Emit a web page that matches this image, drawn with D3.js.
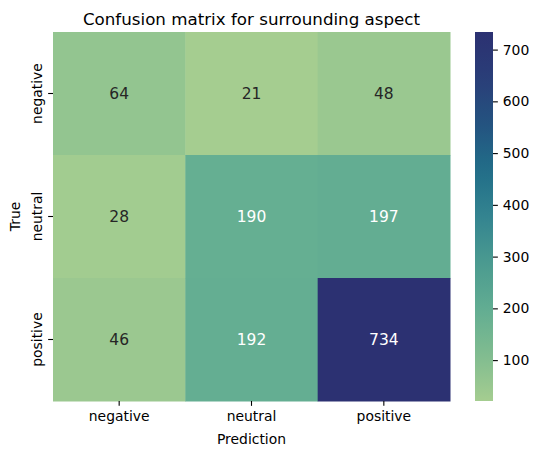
<!DOCTYPE html>
<html>
<head>
<meta charset="utf-8">
<script src="https://cdn.jsdelivr.net/npm/d3@7"></script>
<style>
  body { margin: 0; background: #fff; }
  svg { display: block; font-family: "DejaVu Sans", sans-serif; }
</style>
</head>
<body>
<script>
// confusion matrix values (rows = true, cols = prediction)
var labels = ["negative", "neutral", "positive"];
var matrix = [
  [64, 21, 48],
  [28, 190, 197],
  [46, 192, 734]
];
var colorbarTicks = [100, 200, 300, 400, 500, 600, 700];
// crest-like colormap stops, light to dark
var crestColors = ["#a5cd90", "#80bc90", "#62ad92", "#4a9a90", "#348490",
                   "#216e89", "#245380", "#2a3e78", "#2c3172"];

var W = 539, H = 455;
var plotLeft = 53, plotRight = 450, plotTop = 32, plotBottom = 401;
var tickLen = 4.86, tickPad = 4.86;

var svg = d3.select('body').append('svg')
  .attr('width', W)
  .attr('height', H);

var cells = [];
matrix.forEach(function(row, i) {
  row.forEach(function(v, j) {
    cells.push({ row: labels[i], col: labels[j], value: v });
  });
});

var allVals = d3.merge(matrix);
var vmin = d3.min(allVals), vmax = d3.max(allVals);

var x = d3.scaleBand().domain(labels).range([plotLeft, plotRight]).padding(0);
var y = d3.scaleBand().domain(labels).range([plotTop, plotBottom]).padding(0);
var color = d3.scaleSequential(d3.piecewise(d3.interpolateRgb, crestColors))
  .domain([vmin, vmax]);

// relative luminance, like seaborn's text colour choice
var lin = function(c) {
  c = c / 255;
  return c <= 0.03928 ? c / 12.92 : Math.pow((c + 0.055) / 1.055, 2.4);
};
var luminance = function(col) {
  var c = d3.rgb(col);
  return 0.2126 * lin(c.r) + 0.7152 * lin(c.g) + 0.0722 * lin(c.b);
};

// cells
svg.append('g').selectAll('rect').data(cells)
  .enter().append('rect')
  .attr('x', function(d) { return x(d.col); })
  .attr('y', function(d) { return y(d.row); })
  .attr('width', x.bandwidth() + 0.5)
  .attr('height', y.bandwidth() + 0.5)
  .style('fill', function(d) { return color(d.value); });

// annotations
svg.append('g').selectAll('text').data(cells)
  .enter().append('text')
  .attr('x', function(d) { return x(d.col) + x.bandwidth() / 2; })
  .attr('y', function(d) { return y(d.row) + y.bandwidth() / 2; })
  .attr('text-anchor', 'middle')
  .attr('dominant-baseline', 'central')
  .style('font-size', '15.5px')
  .style('fill', function(d) {
    return luminance(color(d.value)) > 0.408 ? '#262626' : '#ffffff';
  })
  .text(function(d) { return d.value; });

// x axis
var xAxis = svg.append('g')
  .attr('transform', 'translate(0,' + plotBottom + ')')
  .call(d3.axisBottom(x).tickSize(tickLen).tickPadding(tickPad));
xAxis.select('.domain').remove();
xAxis.selectAll('text').style('font-size', '13.9px').style('fill', '#000');

// y axis
var yAxis = svg.append('g')
  .attr('transform', 'translate(' + plotLeft + ',0)')
  .call(d3.axisLeft(y).tickSize(tickLen));
yAxis.select('.domain').remove();
yAxis.selectAll('text')
  .attr('x', null).attr('dy', null)
  .attr('text-anchor', 'middle')
  .attr('dominant-baseline', 'central')
  .attr('transform', 'translate(-16.5,0) rotate(-90)')
  .style('font-size', '13.9px').style('fill', '#000');

svg.selectAll('.tick line').style('stroke', '#000').style('stroke-width', 1.1);

// colorbar
var cbLeft = 475, cbWidth = 18;
var grad = svg.append('defs').append('linearGradient')
  .attr('id', 'cbgrad')
  .attr('x1', 0).attr('y1', 1).attr('x2', 0).attr('y2', 0);
grad.selectAll('stop').data(d3.range(0, 1.0001, 0.05))
  .enter().append('stop')
  .attr('offset', function(t) { return t; })
  .attr('stop-color', function(t) { return color(vmin + t * (vmax - vmin)); });

svg.append('rect')
  .attr('x', cbLeft).attr('y', plotTop)
  .attr('width', cbWidth).attr('height', plotBottom - plotTop)
  .style('fill', 'url(#cbgrad)');

var cbScale = d3.scaleLinear().domain([vmin, vmax]).range([plotBottom, plotTop]);
var cbAxis = svg.append('g')
  .attr('transform', 'translate(' + (cbLeft + cbWidth) + ',0)')
  .call(d3.axisRight(cbScale).tickValues(colorbarTicks).tickSize(tickLen).tickPadding(tickPad));
cbAxis.select('.domain').remove();
cbAxis.selectAll('text').style('font-size', '13.9px').style('fill', '#000');
cbAxis.selectAll('.tick line').style('stroke', '#000').style('stroke-width', 1.1);

svg.selectAll('g').attr('font-family', null);

// labels
svg.append('text')
  .attr('x', (plotLeft + plotRight) / 2).attr('y', 25)
  .attr('text-anchor', 'middle')
  .style('font-size', '16.7px')
  .text('Confusion matrix for surrounding aspect');

svg.append('text')
  .attr('x', (plotLeft + plotRight) / 2).attr('y', 444)
  .attr('text-anchor', 'middle')
  .style('font-size', '13.9px')
  .text('Prediction');

svg.append('text')
  .attr('transform', 'translate(15,' + ((plotTop + plotBottom) / 2) + ') rotate(-90)')
  .attr('text-anchor', 'middle')
  .attr('dominant-baseline', 'central')
  .style('font-size', '13.9px')
  .text('True');
</script>
</body>
</html>
